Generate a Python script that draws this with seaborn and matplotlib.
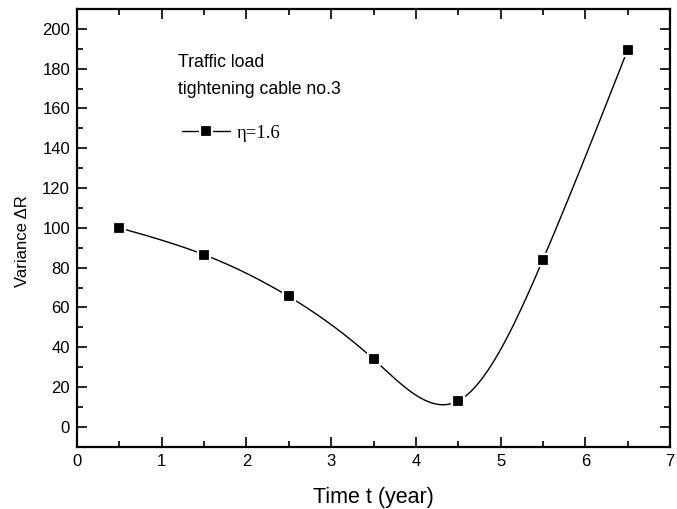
import numpy as np
import pandas as pd
import matplotlib
matplotlib.use("Agg")
import matplotlib.pyplot as plt
import seaborn as sns
from matplotlib.ticker import MultipleLocator
from matplotlib.lines import Line2D

time_years = [0.5, 1.5, 2.5, 3.5, 4.5, 5.5, 6.5]
variance_dR = [100, 86.5, 65.5, 34, 13, 84, 189.5]
series_label = "η=1.6"
x_label = "Time t (year)"
y_label = "Variance ΔR"
note_lines = ["Traffic load", "tightening cable no.3"]


def natural_cubic_spline(x, y, xs):
    x = np.asarray(x, float); y = np.asarray(y, float)
    n = len(x)
    h = np.diff(x)
    A = np.zeros((n, n)); b = np.zeros(n)
    A[0, 0] = 1; A[-1, -1] = 1
    for i in range(1, n - 1):
        A[i, i - 1] = h[i - 1]
        A[i, i] = 2 * (h[i - 1] + h[i])
        A[i, i + 1] = h[i]
        b[i] = 3 * ((y[i + 1] - y[i]) / h[i] - (y[i] - y[i - 1]) / h[i - 1])
    c = np.linalg.solve(A, b)
    bb = np.zeros(n - 1); d = np.zeros(n - 1)
    for i in range(n - 1):
        bb[i] = (y[i + 1] - y[i]) / h[i] - h[i] * (2 * c[i] + c[i + 1]) / 3
        d[i] = (c[i + 1] - c[i]) / (3 * h[i])
    idx = np.clip(np.searchsorted(x, xs) - 1, 0, n - 2)
    dx = xs - x[idx]
    return y[idx] + bb[idx] * dx + c[idx] * dx ** 2 + d[idx] * dx ** 3


sns.set_theme(style="ticks")
plt.rcParams["font.family"] = ["Liberation Sans", "DejaVu Sans"]
plt.rcParams["text.color"] = "black"
plt.rcParams["axes.labelcolor"] = "black"
plt.rcParams["xtick.color"] = "black"
plt.rcParams["ytick.color"] = "black"

df = pd.DataFrame({"t": time_years, "v": variance_dR})
xs = np.linspace(min(time_years), max(time_years), 400)
smooth = pd.DataFrame({"t": xs, "v": natural_cubic_spline(time_years, variance_dR, xs)})

fig = plt.figure(figsize=(6.77, 5.09), dpi=100)
ax = fig.add_axes([0.1137, 0.1224, 0.876, 0.86])

sns.lineplot(data=smooth, x="t", y="v", ax=ax, color="black", lw=1.0, estimator=None, sort=False)
sns.scatterplot(data=df, x="t", y="v", ax=ax, marker="s", s=70, color="black",
                edgecolor="white", linewidth=1.6, zorder=3)

ax.set_xlim(0, 7)
ax.set_ylim(-10, 210)
ax.xaxis.set_major_locator(MultipleLocator(1))
ax.xaxis.set_minor_locator(MultipleLocator(0.5))
ax.yaxis.set_minor_locator(MultipleLocator(10))
ax.set_yticks(np.arange(0, 201, 20))
ax.tick_params(which="both", direction="in", top=True, right=True, labeltop=False, labelright=False,
               width=1.2, colors="black", labelsize=12)
ax.tick_params(which="major", length=7, pad=5)
ax.tick_params(which="minor", length=4)
for s in ax.spines.values():
    s.set_linewidth(1.6)
    s.set_color("black")

ax.set_xlabel(x_label, fontsize=15.5, labelpad=13, color="black")
ax.set_ylabel(y_label, fontsize=12, color="black")
ax.yaxis.set_label_coords(-0.079, 0.47)

ax.text(1.19, 183.2, note_lines[0], fontsize=12.7, va="center", color="black")
ax.text(1.19, 169.5, note_lines[1], fontsize=12.7, va="center", color="black")
h = Line2D([], [], color="black", lw=1.0, marker="s", markersize=8.2,
           markerfacecolor="black", markeredgecolor="white", markeredgewidth=1.6)
leg = ax.legend([h], [series_label], loc="center left", bbox_to_anchor=(0.177, 0.716),
                frameon=False, handlelength=2.56, handletextpad=0.37, borderpad=0, borderaxespad=0,
                labelcolor="black", prop={"family": "Liberation Serif", "size": 13.5})

fig.savefig("out.png", dpi=100)
